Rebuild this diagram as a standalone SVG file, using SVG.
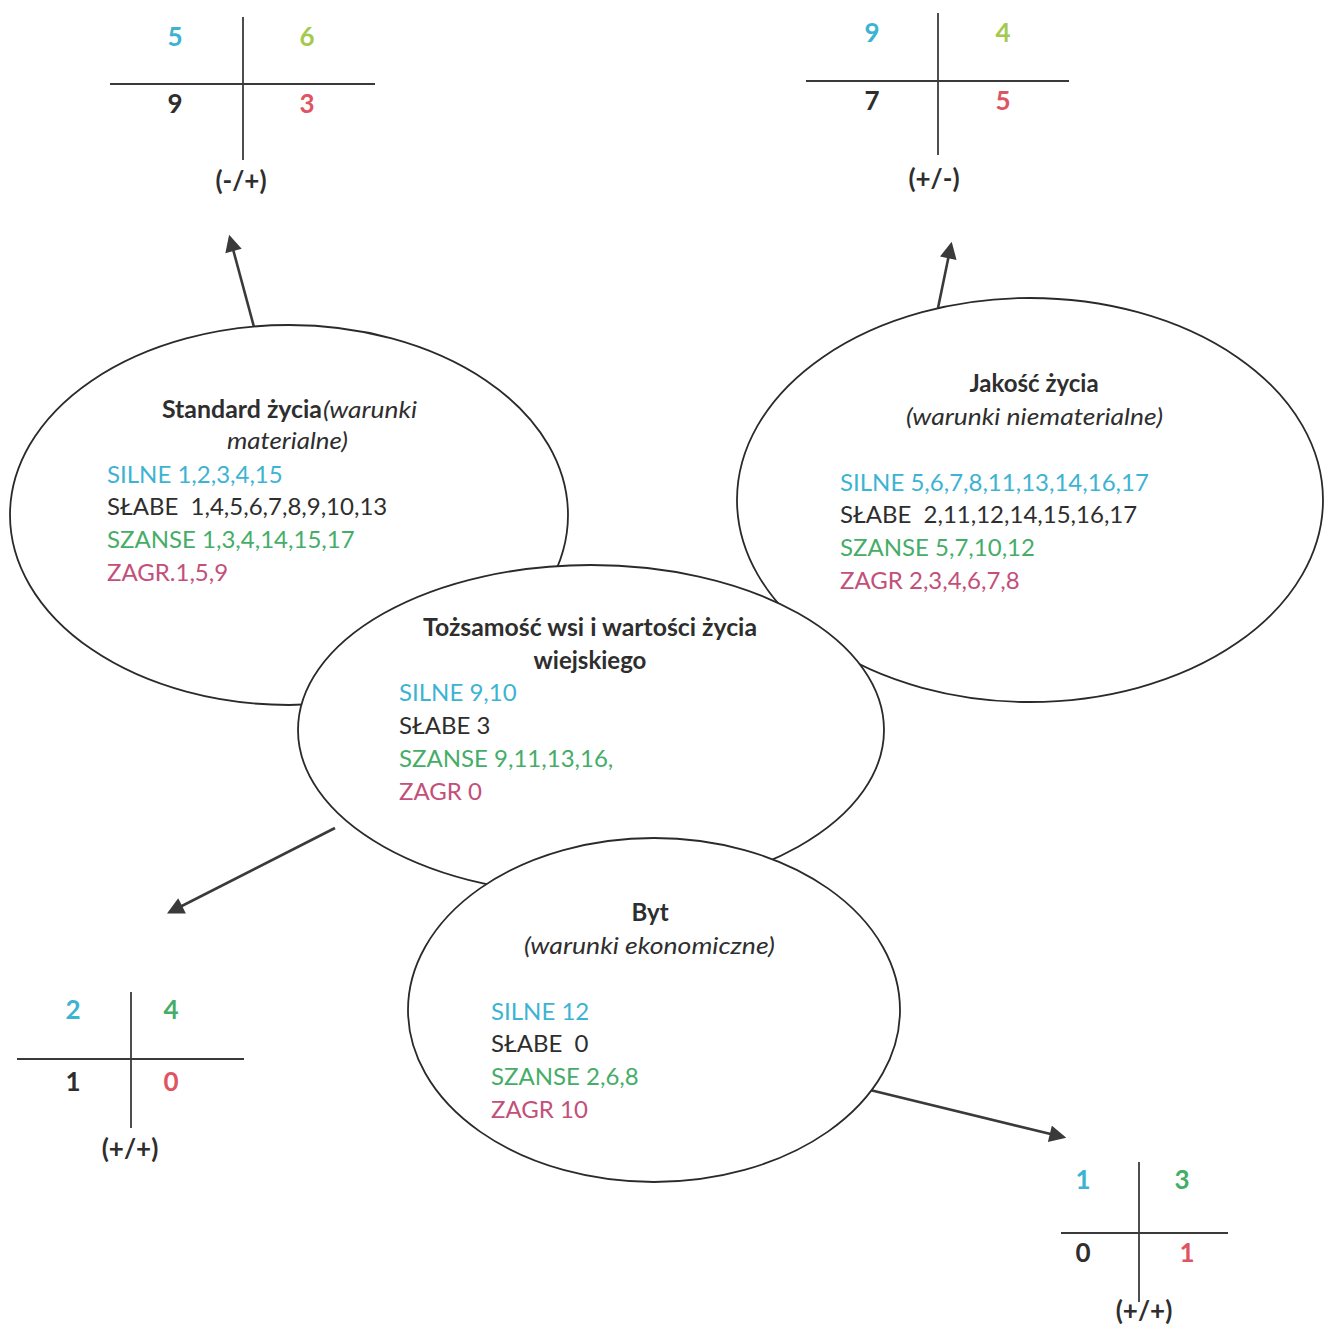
<svg xmlns="http://www.w3.org/2000/svg" width="1324" height="1338" viewBox="0 0 1324 1338">
<style>
text{font-family:Lato,"Open Sans","Liberation Sans",sans-serif;font-size:24px;fill:#2e2e2e}
.b{font-weight:bold}
.i{font-style:italic}
.c{fill:#3db3d3}
.g{fill:#45ad68}
.r{fill:#c2507a}
.y{fill:#a3c94f}
.rn{fill:#e05462}
.q{font-weight:bold;font-size:26px;text-anchor:middle}
.lb{font-weight:bold;font-size:26px;text-anchor:middle}
.m{text-anchor:middle}
.ax{stroke:#3a3a3a;stroke-width:1.8;fill:none}
.el{fill:#fff;stroke:#2a2a2a;stroke-width:1.8}
.ar{stroke:#3a3a3a;stroke-width:2.6;fill:none;marker-end:url(#ah)}
</style>
<defs>
<marker id="ah" viewBox="0 0 10 10" refX="8" refY="5" markerWidth="7.5" markerHeight="6.5" orient="auto" markerUnits="strokeWidth">
<path d="M0,0 L10,5 L0,10 z" fill="#3a3a3a"/>
</marker>
</defs>
<rect width="1324" height="1338" fill="#fff"/>

<g id="quad-tl">
<line class="ax" x1="243" y1="17" x2="243" y2="160"/>
<line class="ax" x1="110" y1="84" x2="375" y2="84"/>
<text class="q c" x="175" y="46">5</text>
<text class="q y" x="307" y="46">6</text>
<text class="q" x="175" y="113">9</text>
<text class="q rn" x="307" y="113">3</text>
<text class="lb" x="241" y="190">(-/+)</text>
</g>

<g id="quad-tr">
<line class="ax" x1="938" y1="13" x2="938" y2="155"/>
<line class="ax" x1="806" y1="81" x2="1069" y2="81"/>
<text class="q c" x="872" y="42">9</text>
<text class="q y" x="1003" y="42">4</text>
<text class="q" x="872" y="110">7</text>
<text class="q rn" x="1003" y="110">5</text>
<text class="lb" x="934" y="188">(+/-)</text>
</g>

<g id="quad-bl">
<line class="ax" x1="131" y1="992" x2="131" y2="1128"/>
<line class="ax" x1="17" y1="1059" x2="244" y2="1059"/>
<text class="q c" x="73" y="1019">2</text>
<text class="q g" x="171" y="1019">4</text>
<text class="q" x="73" y="1091">1</text>
<text class="q rn" x="171" y="1091">0</text>
<text class="lb" x="130" y="1158">(+/+)</text>
</g>

<g id="quad-br">
<line class="ax" x1="1139" y1="1162" x2="1139" y2="1302"/>
<line class="ax" x1="1061" y1="1233" x2="1228" y2="1233"/>
<text class="q c" x="1083" y="1189">1</text>
<text class="q g" x="1182" y="1189">3</text>
<text class="q" x="1083" y="1262">0</text>
<text class="q rn" x="1187" y="1262">1</text>
<text class="lb" x="1144" y="1320">(+/+)</text>
</g>

<g id="connectors">
<line class="ar" x1="254" y1="327" x2="230" y2="238"/>
<line class="ar" x1="938" y1="308" x2="951" y2="245"/>
<line class="ar" x1="335" y1="828" x2="170" y2="912"/>
<line class="ar" x1="870" y1="1090" x2="1063" y2="1137"/>
</g>

<g id="standard">
<ellipse class="el" cx="289" cy="515" rx="279" ry="190"/>
<text y="418"><tspan class="b" x="162" textLength="160" lengthAdjust="spacingAndGlyphs">Standard życia</tspan><tspan class="i" x="323" textLength="94" lengthAdjust="spacingAndGlyphs">(warunki</tspan></text>
<text class="i" x="227" y="449" textLength="121" lengthAdjust="spacingAndGlyphs">materialne)</text>
<text class="c" x="107" y="483">SILNE 1,2,3,4,15</text>
<text x="107" y="515" xml:space="preserve">SŁABE  1,4,5,6,7,8,9,10,13</text>
<text class="g" x="107" y="548">SZANSE 1,3,4,14,15,17</text>
<text class="r" x="107" y="581">ZAGR.1,5,9</text>
</g>

<g id="jakosc">
<ellipse class="el" cx="1030" cy="500" rx="293" ry="202"/>
<text class="b m" x="1034" y="392">Jakość życia</text>
<text class="i" x="906" y="425" textLength="257" lengthAdjust="spacingAndGlyphs">(warunki niematerialne)</text>
<text class="c" x="840" y="491">SILNE 5,6,7,8,11,13,14,16,17</text>
<text x="840" y="523" xml:space="preserve">SŁABE  2,11,12,14,15,16,17</text>
<text class="g" x="840" y="556">SZANSE 5,7,10,12</text>
<text class="r" x="840" y="589">ZAGR 2,3,4,6,7,8</text>
</g>

<g id="tozsamosc">
<ellipse class="el" cx="591" cy="730" rx="293" ry="165"/>
<text class="b" x="423" y="636" textLength="334" lengthAdjust="spacingAndGlyphs">Tożsamość wsi i wartości życia</text>
<text class="b m" x="590" y="669">wiejskiego</text>
<text class="c" x="399" y="701">SILNE 9,10</text>
<text x="399" y="734">SŁABE 3</text>
<text class="g" x="399" y="767">SZANSE 9,11,13,16,</text>
<text class="r" x="399" y="800">ZAGR 0</text>
</g>

<g id="byt">
<ellipse class="el" cx="654" cy="1010" rx="246" ry="172"/>
<text class="b m" x="650" y="921">Byt</text>
<text class="i" x="524" y="954" textLength="251" lengthAdjust="spacingAndGlyphs">(warunki ekonomiczne)</text>
<text class="c" x="491" y="1020">SILNE 12</text>
<text x="491" y="1052" xml:space="preserve">SŁABE  0</text>
<text class="g" x="491" y="1085">SZANSE 2,6,8</text>
<text class="r" x="491" y="1118">ZAGR 10</text>
</g>
</svg>
